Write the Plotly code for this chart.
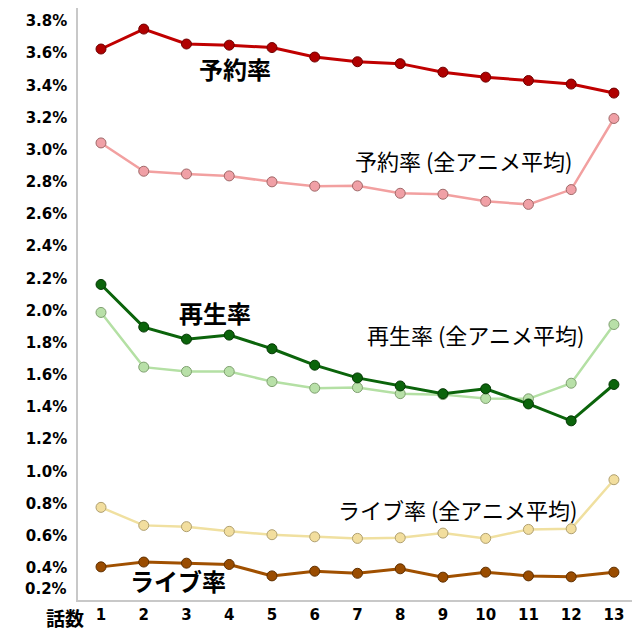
import plotly.graph_objects as go

episodes = list(range(1, 14))
yoyaku = [3.626, 3.750, 3.657, 3.650, 3.635, 3.576, 3.547, 3.535, 3.482, 3.451, 3.430, 3.408, 3.352]
yoyaku_avg = [3.042, 2.866, 2.849, 2.837, 2.800, 2.773, 2.775, 2.729, 2.723, 2.679, 2.660, 2.752, 3.194]
saisei = [2.162, 1.897, 1.822, 1.847, 1.762, 1.660, 1.581, 1.531, 1.483, 1.513, 1.419, 1.314, 1.540]
saisei_avg = [1.988, 1.648, 1.621, 1.621, 1.558, 1.517, 1.521, 1.483, 1.477, 1.453, 1.451, 1.548, 1.913]
live_avg = [0.776, 0.664, 0.656, 0.627, 0.606, 0.593, 0.583, 0.587, 0.616, 0.583, 0.639, 0.643, 0.948]
live = [0.406, 0.436, 0.429, 0.421, 0.350, 0.379, 0.366, 0.394, 0.342, 0.373, 0.350, 0.344, 0.373]

y_ticks = [0.4, 0.6, 0.8, 1.0, 1.2, 1.4, 1.6, 1.8, 2.0, 2.2, 2.4, 2.6, 2.8, 3.0, 3.2, 3.4, 3.6, 3.8]
y_tick_labels = [f"{v:.1f}%" for v in y_ticks]

fig = go.Figure()

def add(y, line_color, fill, edge, width):
    fig.add_trace(go.Scatter(
        x=episodes, y=y, mode="lines+markers",
        line=dict(color=line_color, width=width),
        marker=dict(size=10, color=fill, line=dict(color=edge, width=1)),
        showlegend=False, hoverinfo="skip"))

add(yoyaku_avg, "#F2A0A0", "#F0A0A6", "#A06868", 2.5)
add(saisei_avg, "#B4E0A4", "#B8E0A8", "#7FA070", 2.5)
add(live_avg, "#F0E0A0", "#F2DE9E", "#B0A070", 2.5)
add(yoyaku, "#C00000", "#B00000", "#700000", 3)
add(saisei, "#0B640B", "#0B640B", "#043804", 3)
add(live, "#A05000", "#9A4C00", "#603000", 3)

jp = "Noto Sans CJK JP"
labels = [
    (4.13, 3.507, "<b>予約率</b>", 24),
    (9.47, 2.934, "予約率 (全アニメ平均)", 22),
    (3.67, 1.988, "<b>再生率</b>", 24),
    (9.75, 1.857, "再生率 (全アニメ平均)", 22),
    (9.33, 0.768, "ライブ率 (全アニメ平均)", 22),
    (2.80, 0.319, "<b>ライブ率</b>", 24),
]
for x, y, t, s in labels:
    fig.add_annotation(x=x, y=y, text=t, showarrow=False, xref="x", yref="y",
                       font=dict(family=jp, size=s, color="#000000"))

fig.add_annotation(x=0, y=0.2, xref="paper", yref="y", xanchor="right", xshift=-9, yshift=11,
                   text="<b>0.2%</b>", showarrow=False,
                   font=dict(family="DejaVu Sans", size=15, color="#000000"))
fig.add_annotation(x=0, y=0, xref="paper", yref="paper", xanchor="center", yanchor="middle",
                   xshift=-13, yshift=-17, text="<b>話数</b>", showarrow=False,
                   font=dict(family=jp, size=19, color="#000000"))

fig.update_layout(
    width=632, height=632,
    margin=dict(l=70, r=0, t=0, b=40),
    paper_bgcolor="white", plot_bgcolor="white",
    xaxis=dict(range=[0.462, 13.61], tickvals=episodes, ticktext=[f"<b>{e}</b>" for e in episodes],
               showgrid=False, zeroline=False, showline=True, linecolor="#C8C8C8", linewidth=1.5,
               ticks="", tickfont=dict(family="DejaVu Sans", size=15, color="#000000")),
    yaxis=dict(range=[0.2, 3.881], tickvals=y_ticks, ticktext=[f"<b>{t}</b>" for t in y_tick_labels],
               showgrid=False, zeroline=False, showline=True, linecolor="#C8C8C8", linewidth=1.5,
               ticks="", ticklabelstandoff=6,
               tickfont=dict(family="DejaVu Sans", size=15, color="#000000")),
)

fig.write_html("out.html")
